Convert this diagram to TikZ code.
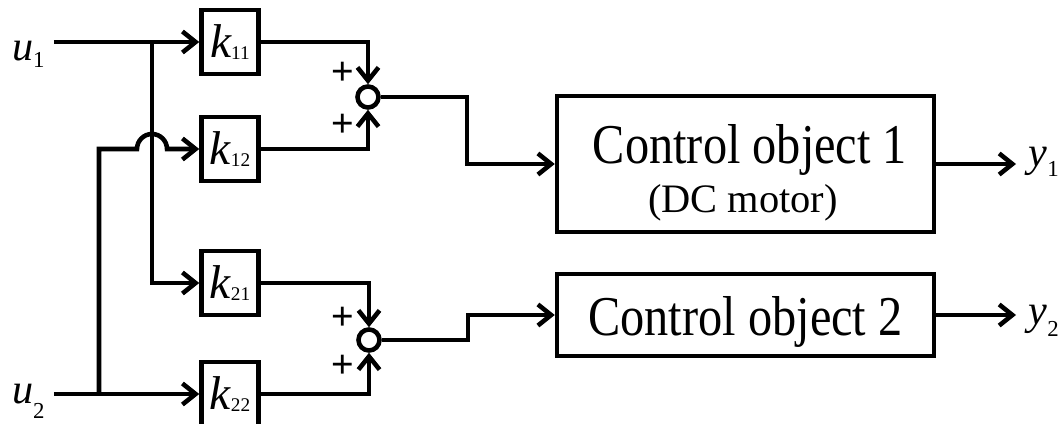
\documentclass[tikz,border=0pt]{standalone}
\usepackage{fontspec}
\usepackage{graphicx}
\setmainfont{Liberation Serif}
\newfontfamily\plusfont{Liberation Sans}
\usepackage{tikz}
\usetikzlibrary{arrows.meta,positioning,calc}

\newcommand{\varsym}[3]{{\fontsize{24}{26}\selectfont\itshape #1}\raisebox{#3}{\fontsize{13}{14}\selectfont #2}}
\newcommand{\gainsym}[1]{{\fontsize{27}{29}\selectfont\itshape k}\raisebox{-1.5pt}{\fontsize{11}{12}\selectfont #1}}

\begin{document}
\begin{tikzpicture}[x=0.02cm, y=-0.02cm,
    gain/.style={draw, line width=2.6pt, minimum width=1.14cm, minimum height=1.28cm, inner sep=0pt},
    plant/.style={draw, line width=2.6pt, minimum width=7.54cm},
    sumnode/.style={draw, circle, line width=2.6pt, minimum size=0.42cm, inner sep=0pt},
    arr/.style={-{Straight Barb[length=7.5pt, width=12pt]}, line width=2.6pt},
    plus/.style={font=\plusfont\fontsize{22}{22}\selectfont, inner sep=0pt},
    sig/.style={inner xsep=5pt, inner ysep=0pt, anchor=base west},
    txt/.style={anchor=base, inner sep=0pt}
]
\useasboundingbox (0,0) rectangle (1062,423);

% inputs
\node[sig] (u1) at (3,60) {\varsym{u}{1}{-4pt}};
\node[sig] (u2) at (3,403) {\varsym{u}{2}{-9pt}};
\coordinate (b1) at (152,42);
\coordinate (b2) at (99,394);
\coordinate (hop) at (152,149);

% gains
\node[gain] (k11) at (230,42) {\gainsym{11}};
\node[gain] (k12) at (230,149) {\gainsym{12}};
\node[gain] (k21) at (230,283) {\gainsym{21}};
\node[gain] (k22) at (230,394) {\gainsym{22}};

% summing points
\node[sumnode] (s1) at (368,97) {};
\node[sumnode] (s2) at (369,340) {};
\node[plus] (p11) at (343,73) {+};
\node[plus] (p12) at (343,125) {+};
\node[plus] (p21) at (343,318) {+};
\node[plus] (p22) at (343,366) {+};

% plants
\node[plant, minimum height=2.72cm] (co1) at (745.5,164) {};
\node[txt] (co1a) at (750,163) {\scalebox{0.86}[1]{\fontsize{32}{34}\selectfont Control object 1}};
\node[txt] (co1b) at (743,212) {\fontsize{23}{25}\selectfont (DC motor)};
\node[plant, minimum height=1.64cm] (co2) at (745.5,315) {};
\node[txt] (co2a) at (745.5,335) {\scalebox{0.86}[1]{\fontsize{32}{34}\selectfont Control object 2}};

% outputs
\node[sig, inner xsep=7pt] (y1) at (1016,166) {\varsym{y}{1}{-6pt}};
\node[sig, inner xsep=7pt] (y2) at (1016,324) {\varsym{y}{2}{-7pt}};

\draw[arr] (u1.east |- b1) -- (k11);
\draw[arr] (b1) |- (k21);
\draw[arr] (u2.east |- b2) -- (k22);
\draw[arr] (b2) |- ([xshift=-0.3cm]hop) arc[start angle=180, end angle=0, radius=0.3cm] -- (k12);
\draw[arr] (k11) -| (s1);
\draw[arr] (k12) -| (s1);
\draw[arr] (k21) -| (s2);
\draw[arr] (k22) -| (s2);
\draw[arr] (s1.east) -- ++(86,0) |- (co1);
\draw[arr] (s2.east) -- ++(86,0) |- (co2);
\draw[arr] (co1) -- (co1 -| y1.west);
\draw[arr] (co2) -- (co2 -| y2.west);
\end{tikzpicture}
\end{document}
